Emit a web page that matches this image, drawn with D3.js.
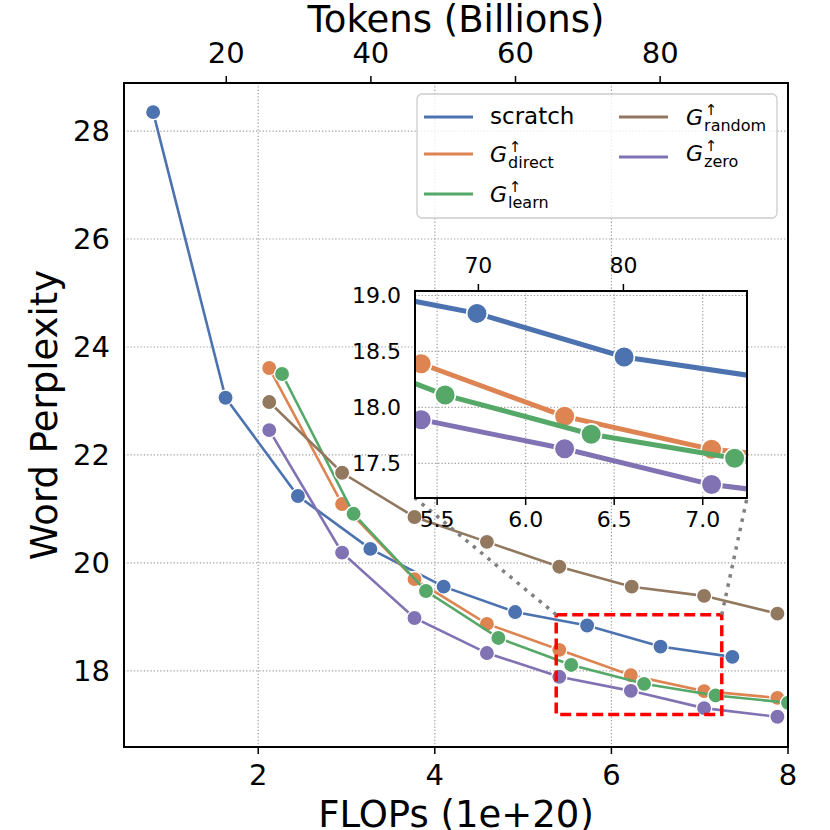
<!DOCTYPE html>
<html>
<head>
<meta charset="utf-8">
<script src="https://cdn.jsdelivr.net/npm/d3@7"></script>
<style>
  body { margin: 0; background: #fff; }
  svg { display: block; font-family: "DejaVu Sans", sans-serif; }
</style>
</head>
<body>
<div id="chart"></div>
<script>
// values (FLOPs in 1e20, word perplexity)
const seriesKeys = ["scratch", "direct", "learn", "random", "zero"];
const seriesColors = ["#4C72B0", "#DD8452", "#55A868", "#937860", "#8172B3"];

const scratchX = [0.81, 1.63, 2.45, 3.27, 4.10, 4.91, 5.725, 6.556, 7.37];
const scratchY = [28.35, 23.06, 21.24, 20.26, 19.56, 19.09, 18.84, 18.45, 18.26];
const directX = [2.125, 2.95, 3.77, 4.59, 5.41, 6.22, 7.05, 7.88];
const directY = [23.61, 21.09, 19.70, 18.87, 18.39, 17.92, 17.625, 17.50];
const learnX = [2.27, 3.08, 3.90, 4.72, 5.545, 6.37, 7.18, 8.0];
const learnY = [23.50, 20.91, 19.48, 18.61, 18.11, 17.76, 17.545, 17.41];
const randomX = [2.125, 2.95, 3.77, 4.59, 5.41, 6.23, 7.05, 7.88];
const randomY = [22.98, 21.67, 20.85, 20.39, 19.93, 19.56, 19.39, 19.06];
const zeroX = [2.125, 2.95, 3.77, 4.59, 5.41, 6.22, 7.05, 7.88];
const zeroY = [22.46, 20.19, 18.98, 18.33, 17.89, 17.63, 17.31, 17.15];

// 1 billion tokens ~ 0.0819e20 FLOPs (top axis)
const flopsPerToken = 0.0819;

const xTicks = [2, 4, 6, 8];
const yTicks = [18, 20, 22, 24, 26, 28];
const tokenTicks = [20, 40, 60, 80];
const insetXTicks = [5.5, 6.0, 6.5, 7.0];
const insetYTicks = [17.5, 18.0, 18.5, 19.0];
const insetTokenTicks = [70, 80];

const xDomain = [0.48, 8.0];
const yDomain = [16.59, 28.89];
const insetXDomain = [5.375, 7.25];
const insetYDomain = [17.19, 19.04];

const series = seriesKeys.map((k, i) => {
  const xs = [scratchX, directX, learnX, randomX, zeroX][i];
  const ys = [scratchY, directY, learnY, randomY, zeroY][i];
  return { key: k, color: seriesColors[i], points: xs.map((x, j) => ({ x: x, y: ys[j] })) };
});

const width = 830, height = 830;
const svg = d3.select("#chart").append("svg").attr("width", width).attr("height", height);

const main = { left: 124, right: 788, top: 83, bottom: 747 };
const ins = { left: 415, right: 747, top: 291, bottom: 498 };

const x = d3.scaleLinear().domain(xDomain).range([main.left, main.right]);
const y = d3.scaleLinear().domain(yDomain).range([main.bottom, main.top]);
const xTop = d3.scaleLinear().domain(xDomain.map(d => d / flopsPerToken)).range([main.left, main.right]);

const xi = d3.scaleLinear().domain(insetXDomain).range([ins.left, ins.right]);
const yi = d3.scaleLinear().domain(insetYDomain).range([ins.bottom, ins.top]);
const xiTop = d3.scaleLinear().domain(insetXDomain.map(d => d / flopsPerToken)).range([ins.left, ins.right]);

function drawPanel(g, box, sx, sy, sTop, opt) {
  const id = opt.id;
  g.append("clipPath").attr("id", id)
    .append("rect")
    .attr("x", box.left).attr("y", box.top)
    .attr("width", box.right - box.left).attr("height", box.bottom - box.top);

  g.append("rect")
    .attr("x", box.left).attr("y", box.top)
    .attr("width", box.right - box.left).attr("height", box.bottom - box.top)
    .attr("fill", "#fff");

  // grid
  const grid = g.append("g").attr("stroke", "#a0a0a0").attr("stroke-width", 1.2)
    .attr("stroke-dasharray", "1.3,2");
  grid.selectAll("line.gx").data(opt.xTicks).enter().append("line")
    .attr("x1", d => sx(d)).attr("x2", d => sx(d))
    .attr("y1", box.top).attr("y2", box.bottom);
  grid.selectAll("line.gy").data(opt.yTicks).enter().append("line")
    .attr("x1", box.left).attr("x2", box.right)
    .attr("y1", d => sy(d)).attr("y2", d => sy(d));

  // series
  const plot = g.append("g").attr("clip-path", `url(#${id})`);
  const line = d3.line().x(d => sx(d.x)).y(d => sy(d.y));
  series.forEach(s => {
    const sg = plot.append("g");
    sg.append("path").datum(s.points)
      .attr("d", line).attr("fill", "none")
      .attr("stroke", s.color).attr("stroke-width", opt.lineWidth);
    sg.selectAll("circle").data(s.points).enter().append("circle")
      .attr("cx", d => sx(d.x)).attr("cy", d => sy(d.y))
      .attr("r", opt.r).attr("fill", s.color)
      .attr("stroke", "#fff").attr("stroke-width", opt.edge);
  });

  // frame
  g.append("rect")
    .attr("x", box.left).attr("y", box.top)
    .attr("width", box.right - box.left).attr("height", box.bottom - box.top)
    .attr("fill", "none").attr("stroke", "#000").attr("stroke-width", 2);

  // bottom ticks
  g.selectAll("line.tb").data(opt.xTicks).enter().append("line")
    .attr("x1", d => sx(d)).attr("x2", d => sx(d))
    .attr("y1", box.bottom).attr("y2", box.bottom + 7)
    .attr("stroke", "#000").attr("stroke-width", 1.5);
  g.selectAll("text.tb").data(opt.xTicks).enter().append("text")
    .attr("x", d => sx(d)).attr("y", opt.bottomBase)
    .attr("text-anchor", "middle").attr("font-size", opt.fontSize)
    .text(opt.fmt);

  // top ticks (tokens)
  g.selectAll("line.tt").data(opt.topTicks).enter().append("line")
    .attr("x1", d => sTop(d)).attr("x2", d => sTop(d))
    .attr("y1", box.top).attr("y2", box.top - 7)
    .attr("stroke", "#000").attr("stroke-width", 1.5);
  g.selectAll("text.tt").data(opt.topTicks).enter().append("text")
    .attr("x", d => sTop(d)).attr("y", opt.topBase)
    .attr("text-anchor", "middle").attr("font-size", opt.fontSize)
    .text(d => d);

  // left labels (no tick marks)
  g.selectAll("text.tl").data(opt.yTicks).enter().append("text")
    .attr("x", box.left - 14).attr("y", d => sy(d))
    .attr("dy", "0.36em")
    .attr("text-anchor", "end").attr("font-size", opt.fontSize)
    .text(opt.fmtY);
}

const mainG = svg.append("g");
drawPanel(mainG, main, x, y, xTop, {
  id: "clipMain", xTicks: xTicks, yTicks: yTicks, topTicks: tokenTicks,
  lineWidth: 2.6, r: 7.6, edge: 1.3, fontSize: 29,
  bottomBase: 785, topBase: 63, fmt: d => d, fmtY: d => d
});

// axis titles
svg.append("text").attr("x", (main.left + main.right) / 2).attr("y", 32)
  .attr("text-anchor", "middle").attr("font-size", 37).text("Tokens (Billions)");
svg.append("text").attr("x", (main.left + main.right) / 2).attr("y", 827)
  .attr("text-anchor", "middle").attr("font-size", 37).text("FLOPs (1e+20)");
svg.append("text").attr("transform", `translate(57,${(main.top + main.bottom) / 2}) rotate(-90)`)
  .attr("text-anchor", "middle").attr("font-size", 37).text("Word Perplexity");

// zoom region and connectors
const zx0 = x(insetXDomain[0]), zx1 = x(insetXDomain[1]);
const zy0 = y(insetYDomain[1]), zy1 = y(insetYDomain[0]);
svg.append("rect")
  .attr("x", zx0).attr("y", zy0).attr("width", zx1 - zx0).attr("height", zy1 - zy0)
  .attr("fill", "none").attr("stroke", "#ff0000").attr("stroke-width", 3.5)
  .attr("stroke-dasharray", "11,5");
svg.append("line")
  .attr("x1", zx0).attr("y1", zy0).attr("x2", ins.left).attr("y2", ins.bottom)
  .attr("stroke", "#808080").attr("stroke-width", 3.5).attr("stroke-dasharray", "3.5,6");
svg.append("line")
  .attr("x1", zx1).attr("y1", zy0).attr("x2", ins.right).attr("y2", ins.bottom)
  .attr("stroke", "#808080").attr("stroke-width", 3.5).attr("stroke-dasharray", "3.5,6");

// legend
const legend = svg.append("g");
legend.append("rect")
  .attr("x", 417).attr("y", 94).attr("width", 360).attr("height", 124).attr("rx", 5)
  .attr("fill", "#fff").attr("fill-opacity", 0.8)
  .attr("stroke", "#cccccc").attr("stroke-width", 1.3);

const legendItems = [
  { i: 0, hx: 424, hy: 117, tx: 490, base: 124, sub: null },
  { i: 1, hx: 424, hy: 154, tx: 490, base: 162, sub: "direct" },
  { i: 2, hx: 424, hy: 194, tx: 490, base: 202, sub: "learn" },
  { i: 3, hx: 619, hy: 117, tx: 686, base: 125, sub: "random" },
  { i: 4, hx: 619, hy: 157, tx: 686, base: 161, sub: "zero" }
];
legendItems.forEach(it => {
  legend.append("line")
    .attr("x1", it.hx).attr("x2", it.hx + 49).attr("y1", it.hy).attr("y2", it.hy)
    .attr("stroke", seriesColors[it.i]).attr("stroke-width", 3);
  if (!it.sub) {
    legend.append("text").attr("x", it.tx).attr("y", it.base)
      .attr("font-size", 23).text(seriesKeys[it.i]);
    return;
  }
  const gText = legend.append("text").attr("x", it.tx).attr("y", it.base)
    .attr("font-size", 22).attr("font-style", "italic").text("G");
  const gw = gText.node().getComputedTextLength();
  legend.append("text").attr("x", it.tx + gw + 8).attr("y", it.base - 10)
    .attr("font-size", 15).attr("text-anchor", "middle").text("\u2191");
  legend.append("text").attr("x", it.tx + gw + 1).attr("y", it.base + 5.5)
    .attr("font-size", 16).text(it.sub);
});

// inset
const insetG = svg.append("g");
drawPanel(insetG, ins, xi, yi, xiTop, {
  id: "clipInset", xTicks: insetXTicks, yTicks: insetYTicks, topTicks: insetTokenTicks,
  lineWidth: 5, r: 10.3, edge: 1.6, fontSize: 22,
  bottomBase: 527, topBase: 273, fmt: d => d.toFixed(1), fmtY: d => d.toFixed(1)
});
</script>
</body>
</html>
